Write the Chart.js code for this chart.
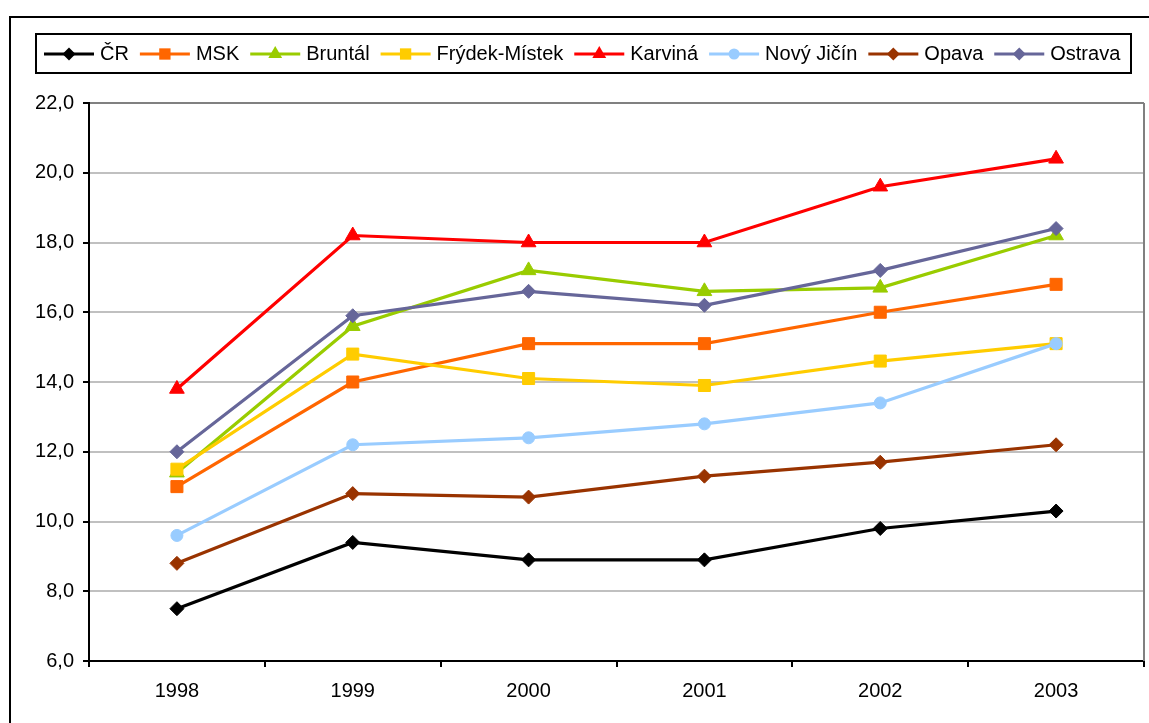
<!DOCTYPE html>
<html>
<head>
<meta charset="utf-8">
<script src="https://cdn.jsdelivr.net/npm/chart.js@4/dist/chart.umd.min.js"></script>
<style>
body { margin: 0; background: #fff; }
canvas { display: block; }
</style>
</head>
<body>
<canvas id="line-chart" width="1149" height="723"></canvas>
<script>
var years = ["1998", "1999", "2000", "2001", "2002", "2003"];
var seriesNames = ["ČR", "MSK", "Bruntál", "Frýdek-Místek", "Karviná", "Nový Jičín", "Opava", "Ostrava"];
var cr = [7.5, 9.4, 8.9, 8.9, 9.8, 10.3];
var msk = [11.0, 14.0, 15.1, 15.1, 16.0, 16.8];
var bruntal = [11.4, 15.6, 17.2, 16.6, 16.7, 18.2];
var frydek = [11.5, 14.8, 14.1, 13.9, 14.6, 15.1];
var karvina = [13.8, 18.2, 18.0, 18.0, 19.6, 20.4];
var novyJicin = [9.6, 12.2, 12.4, 12.8, 13.4, 15.1];
var opava = [8.8, 10.8, 10.7, 11.3, 11.7, 12.2];
var ostrava = [12.0, 15.9, 16.6, 16.2, 17.2, 18.4];
var yTicks = [6, 8, 10, 12, 14, 16, 18, 20, 22];

var values = [cr, msk, bruntal, frydek, karvina, novyJicin, opava, ostrava];
var colors = ["#000000", "#FF6600", "#99CC00", "#FFCC00", "#FF0000", "#99CCFF", "#993300", "#666699"];
var markers = ["rectRot", "rect", "triangle", "rect", "triangle", "circle", "rectRot", "rectRot"];
var radii = { rectRot: 7, rect: 8.5, triangle: 8.5, circle: 6 };
var font = "'Liberation Sans', Arial, sans-serif";

var datasets = seriesNames.map(function (name, i) {
	return {
		label: name,
		data: values[i],
		borderColor: colors[i],
		backgroundColor: colors[i],
		borderWidth: 3.2,
		pointStyle: markers[i],
		pointRadius: radii[markers[i]],
		pointBorderWidth: 1,
		pointBackgroundColor: colors[i],
		pointBorderColor: colors[i],
		fill: false,
		tension: 0,
		order: seriesNames.length - i
	};
});

function marker(ctx, style, x, y, r, color) {
	ctx.save();
	ctx.fillStyle = color;
	ctx.beginPath();
	if (style == "rectRot") {
		ctx.moveTo(x, y - r); ctx.lineTo(x + r, y); ctx.lineTo(x, y + r); ctx.lineTo(x - r, y);
	} else if (style == "rect") {
		var s = r * Math.SQRT1_2;
		ctx.rect(x - s, y - s, 2 * s, 2 * s);
	} else if (style == "triangle") {
		ctx.moveTo(x, y - r);
		ctx.lineTo(x + r * Math.sin(2 * Math.PI / 3), y - r * Math.cos(2 * Math.PI / 3));
		ctx.lineTo(x + r * Math.sin(4 * Math.PI / 3), y - r * Math.cos(4 * Math.PI / 3));
	} else {
		ctx.arc(x, y, r, 0, 2 * Math.PI);
	}
	ctx.closePath();
	ctx.fill();
	ctx.restore();
}

var frame = {
	id: "frame",
	beforeDatasetsDraw: function (chart) {
		var ctx = chart.ctx, a = chart.chartArea;
		ctx.save();
		ctx.strokeStyle = "#808080";
		ctx.lineWidth = 2;
		ctx.beginPath();
		ctx.moveTo(a.right, a.top);
		ctx.lineTo(a.right, a.bottom);
		ctx.stroke();
		ctx.restore();
	},
	afterDraw: function (chart) {
		var ctx = chart.ctx;
		ctx.save();
		// outer border
		ctx.strokeStyle = "#000";
		ctx.lineWidth = 2;
		ctx.strokeRect(10, 17, 1300, 900);
		// legend box
		ctx.strokeRect(36, 34, 1095, 39);
		ctx.font = "20px " + font;
		ctx.textBaseline = "middle";
		ctx.fillStyle = "#000";
		var x = 44, y = 54;
		chart.data.datasets.forEach(function (ds) {
			ctx.strokeStyle = ds.borderColor;
			ctx.lineWidth = 3;
			ctx.beginPath();
			ctx.moveTo(x, y);
			ctx.lineTo(x + 50, y);
			ctx.stroke();
			marker(ctx, ds.pointStyle, x + 25, y, ds.pointRadius - 0.5, ds.borderColor);
			ctx.fillStyle = "#000";
			ctx.fillText(ds.label, x + 56, y);
			x += 56 + ctx.measureText(ds.label).width + 11;
		});
		ctx.restore();
	}
};

new Chart(document.getElementById("line-chart"), {
	type: 'line',
	data: {
		labels: years,
		datasets: datasets
	},
	options: {
		responsive: false,
		animation: false,
		layout: { autoPadding: false, padding: { top: 103, right: 5, left: 0, bottom: 0 } },
		plugins: {
			legend: { display: false },
			tooltip: { enabled: false }
		},
		scales: {
			x: {
				offset: true,
				grid: {
					offset: true,
					drawOnChartArea: false,
					tickLength: 6,
					tickColor: "#000",
					lineWidth: 2
				},
				border: { display: true, color: "#000", width: 2 },
				ticks: { color: "#000", font: { size: 20, family: font }, padding: 12, maxRotation: 0 },
				afterFit: function (scale) {
					scale.height = 62;
					scale.paddingRight = 0;
					scale.paddingLeft = 0;
				}
			},
			y: {
				min: 6,
				max: 22,
				afterBuildTicks: function (scale) {
					scale.ticks = yTicks.map(function (v) { return { value: v }; });
				},
				grid: {
					color: function (c) { return c.tick && c.tick.value === 22 ? "#808080" : "#C0C0C0"; },
					tickColor: "#000",
					tickLength: 6,
					lineWidth: 2
				},
				border: { display: true, color: "#000", width: 2 },
				ticks: {
					color: "#000",
					font: { size: 20, family: font },
					padding: 9,
					callback: function (v) { return v.toFixed(1).replace(".", ","); }
				},
				afterFit: function (scale) { scale.width = 89; }
			}
		}
	},
	plugins: [frame]
});
</script>
</body>
</html>
